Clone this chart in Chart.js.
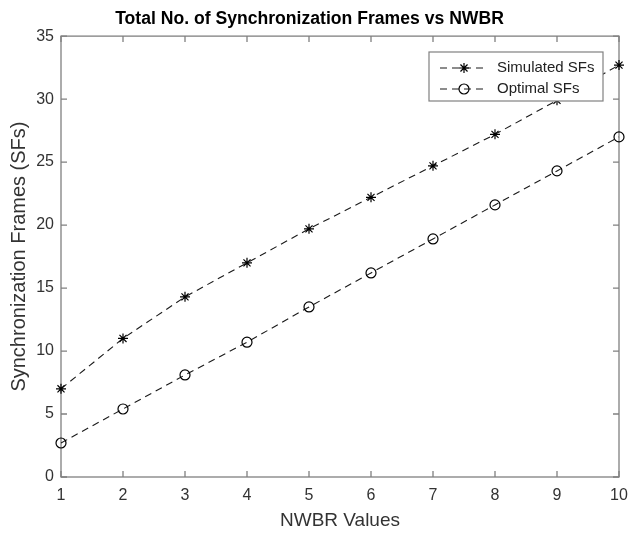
<!DOCTYPE html>
<html>
<head>
<meta charset="utf-8">
<title>Total No. of Synchronization Frames vs NWBR</title>
<script src="https://cdn.jsdelivr.net/npm/chart.js@4.4.1/dist/chart.umd.min.js"></script>
<style>
    html, body { margin: 0; padding: 0; background: #fff; }
    #wrap { width: 629px; height: 534px; }
</style>
</head>
<body>
<div id="wrap"><canvas id="sfChart" width="629" height="534"></canvas></div>
<script>
// values
const nwbrValues = [1, 2, 3, 4, 5, 6, 7, 8, 9, 10];
const simulatedSFs = [7.0, 11.0, 14.3, 17.0, 19.7, 22.2, 24.7, 27.2, 29.9, 32.7];
const optimalSFs = [2.7, 5.4, 8.1, 10.7, 13.5, 16.2, 18.9, 21.6, 24.3, 27.0];
const xTickValues = [1, 2, 3, 4, 5, 6, 7, 8, 9, 10];
const yTickValues = [0, 5, 10, 15, 20, 25, 30, 35];

const FONT = '"Liberation Sans", Arial, Helvetica, sans-serif';
const AXIS_COLOR = '#808080';
const TICK_LEN = 6;

function toPoints(ys) {
    return nwbrValues.map(function (x, i) { return { x: x, y: ys[i] }; });
}

// matlab style box: all four sides + inward tick marks
const axesBox = {
    id: 'axesBox',
    beforeDatasetsDraw: function (chart) {
        const ctx = chart.ctx;
        const a = chart.chartArea;
        const xs = chart.scales.x;
        const ys = chart.scales.y;
        ctx.save();
        ctx.strokeStyle = AXIS_COLOR;
        ctx.lineWidth = 1.3;
        ctx.strokeRect(a.left, a.top, a.right - a.left, a.bottom - a.top);
        ctx.beginPath();
        xs.ticks.forEach(function (t) {
            const px = xs.getPixelForValue(t.value);
            ctx.moveTo(px, a.bottom); ctx.lineTo(px, a.bottom - TICK_LEN);
            ctx.moveTo(px, a.top); ctx.lineTo(px, a.top + TICK_LEN);
        });
        ys.ticks.forEach(function (t) {
            const py = ys.getPixelForValue(t.value);
            ctx.moveTo(a.left, py); ctx.lineTo(a.left + TICK_LEN, py);
            ctx.moveTo(a.right, py); ctx.lineTo(a.right - TICK_LEN, py);
        });
        ctx.stroke();
        ctx.restore();
    }
};

// legend box inside the plot, top right
const boxLegend = {
    id: 'boxLegend',
    afterDatasetsDraw: function (chart) {
        const ctx = chart.ctx;
        const box = { left: 429, top: 52, width: 174, height: 49 };
        const rowY = [68, 89];
        ctx.save();
        ctx.fillStyle = '#fff';
        ctx.fillRect(box.left, box.top, box.width, box.height);
        ctx.strokeStyle = AXIS_COLOR;
        ctx.lineWidth = 1.2;
        ctx.strokeRect(box.left, box.top, box.width, box.height);

        chart.data.datasets.forEach(function (ds, i) {
            const y = rowY[i];
            ctx.strokeStyle = ds.borderColor;
            ctx.lineWidth = ds.borderWidth;
            ctx.setLineDash(ds.borderDash);
            ctx.beginPath();
            ctx.moveTo(440, y);
            ctx.lineTo(488, y);
            ctx.stroke();
            ctx.setLineDash([]);
            ctx.strokeStyle = ds.pointBorderColor;
            ctx.fillStyle = ds.pointBackgroundColor;
            ctx.lineWidth = ds.pointBorderWidth;
            Chart.helpers.drawPoint(ctx, {
                pointStyle: ds.pointStyle,
                radius: ds.pointRadius,
                borderWidth: ds.pointBorderWidth,
                rotation: 0
            }, 464, y);
            ctx.fillStyle = '#222';
            ctx.font = '15px ' + FONT;
            ctx.textAlign = 'left';
            ctx.textBaseline = 'middle';
            ctx.fillText(ds.label, 497, y);
        });
        ctx.restore();
    }
};

document.addEventListener('DOMContentLoaded', function () {
    const ctx = document.getElementById('sfChart').getContext('2d');

    const lineStyle = {
        borderColor: '#1a1a1a',
        borderWidth: 1.1,
        borderDash: [7, 5],
        pointBorderColor: '#000',
        pointBackgroundColor: 'rgba(0,0,0,0)',
        pointBorderWidth: 1.2,
        pointRadius: 5,
        pointHoverRadius: 5,
        tension: 0,
        fill: false,
        clip: false
    };

    new Chart(ctx, {
        type: 'line',
        data: {
            datasets: [
                Object.assign({ label: 'Simulated SFs', data: toPoints(simulatedSFs), pointStyle: 'star' }, lineStyle),
                Object.assign({ label: 'Optimal SFs', data: toPoints(optimalSFs), pointStyle: 'circle' }, lineStyle)
            ]
        },
        options: {
            responsive: false,
            animation: false,
            devicePixelRatio: 1,
            layout: { padding: { left: 0, right: 10, top: 0, bottom: 0 } },
            plugins: {
                legend: { display: false },
                tooltip: { enabled: false },
                title: {
                    display: true,
                    text: 'Total No. of Synchronization Frames vs NWBR',
                    color: '#000',
                    font: { family: FONT, size: 17.6, weight: 'bold' },
                    padding: { top: 9, bottom: 6 }
                }
            },
            scales: {
                x: {
                    type: 'linear',
                    min: 1,
                    max: 10,
                    grid: { display: false, drawTicks: false },
                    border: { display: false },
                    afterBuildTicks: function (s) {
                        s.ticks = xTickValues.map(function (v) { return { value: v }; });
                    },
                    afterFit: function (s) {
                        s.height = 57;
                        s.paddingLeft = 0;
                        s.paddingRight = 0;
                    },
                    ticks: {
                        color: '#333',
                        font: { family: FONT, size: 16 },
                        padding: 9,
                        maxRotation: 0,
                        autoSkip: false
                    },
                    title: {
                        display: true,
                        text: 'NWBR Values',
                        color: '#333',
                        font: { family: FONT, size: 19 },
                        padding: { top: 0, bottom: 2 }
                    }
                },
                y: {
                    min: 0,
                    max: 35,
                    grid: { display: false, drawTicks: false },
                    border: { display: false },
                    afterBuildTicks: function (s) {
                        s.ticks = yTickValues.map(function (v) { return { value: v }; });
                    },
                    afterFit: function (s) {
                        s.width = 61;
                        s.paddingTop = 0;
                        s.paddingBottom = 0;
                    },
                    ticks: {
                        color: '#333',
                        font: { family: FONT, size: 16 },
                        padding: 7
                    },
                    title: {
                        display: true,
                        text: 'Synchronization Frames (SFs)',
                        color: '#333',
                        font: { family: FONT, size: 20 },
                        padding: { top: 7, bottom: 0 }
                    }
                }
            }
        },
        plugins: [axesBox, boxLegend]
    });
});
</script>
</body>
</html>
